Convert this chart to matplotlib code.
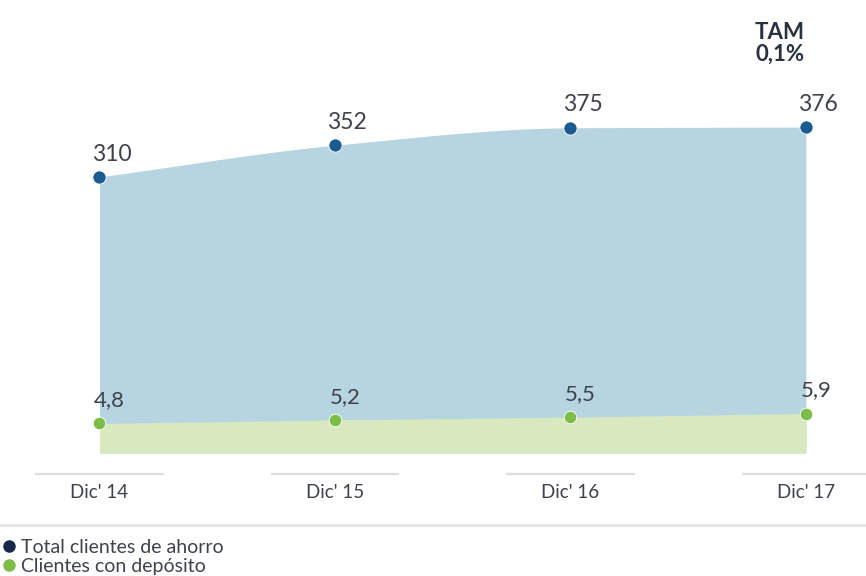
import numpy as np
import matplotlib
matplotlib.use("Agg")
import matplotlib.pyplot as plt
from matplotlib.lines import Line2D
from matplotlib import transforms as mtransforms

plt.rcParams["font.family"] = ["Lato", "DejaVu Sans"]

# Data (millones de clientes)
categories = ["Dic' 14", "Dic' 15", "Dic' 16", "Dic' 17"]
total_ahorro = [310, 352, 375, 376]
clientes_deposito = [4.8, 5.2, 5.5, 5.9]
total_labels = ["310", "352", "375", "376"]
deposito_labels = ["4,8", "5,2", "5,5", "5,9"]
legend_labels = ["Total clientes de ahorro", "Clientes con depósito"]
tam_text = "TAM\n0,1%"

BLUE_FILL = "#b7d4e1"
BLUE_DOT = "#1c5b90"
NAVY = "#16284a"
GREEN_FILL = "#d9e9bf"
GREEN_DOT = "#7dbd46"
TEXT = "#3d424b"
RULE = "#dedede"


def pchip(xk, yk, xs):
    """Monotone cubic interpolation used for the smooth area edge."""
    xk = np.asarray(xk, float)
    yk = np.asarray(yk, float)
    h = np.diff(xk)
    d = np.diff(yk) / h
    m = np.zeros_like(yk)
    for i in range(1, len(yk) - 1):
        if d[i - 1] * d[i] > 0:
            w1 = 2 * h[i] + h[i - 1]
            w2 = h[i] + 2 * h[i - 1]
            m[i] = (w1 + w2) / (w1 / d[i - 1] + w2 / d[i])
    m[0] = d[0]
    m[-1] = d[-1]
    out = np.empty_like(xs)
    for j, x in enumerate(xs):
        i = min(np.searchsorted(xk, x, side="right") - 1, len(h) - 1)
        i = max(i, 0)
        t = (x - xk[i]) / h[i]
        h00 = 2 * t**3 - 3 * t**2 + 1
        h10 = t**3 - 2 * t**2 + t
        h01 = -2 * t**3 + 3 * t**2
        h11 = t**3 - t**2
        out[j] = h00 * yk[i] + h10 * h[i] * m[i] + h01 * yk[i + 1] + h11 * h[i] * m[i + 1]
    return out


W, H = 866, 576
fig = plt.figure(figsize=(W / 100, H / 100), dpi=100)
fig.patch.set_facecolor("white")

ax_bottom_px = 453
ax = fig.add_axes([0, (H - ax_bottom_px) / H, 1, ax_bottom_px / H])
ax.set_facecolor("none")
x = np.arange(len(categories))
ax.set_xlim(-0.4225, 3.255)
ax.set_ylim(-55.2, 544.1)

# Total clientes de ahorro: smooth blue area
xs = np.linspace(x[0], x[-1], 300)
ys = pchip(x, total_ahorro, xs)
ax.fill_between(xs, ys, ax.get_ylim()[0], color=BLUE_FILL, lw=0, zorder=1)

# Clientes con depósito on its own scale
ax2 = ax.twinx()
ax2.set_ylim(1.55, 51.44)
ax2.fill_between(x, clientes_deposito, ax2.get_ylim()[0], color=GREEN_FILL, lw=0, zorder=1)

ax.plot(x, total_ahorro, "o", ms=9.5, color=BLUE_DOT, mec="white", mew=0.6, zorder=4)
ax2.plot(x, clientes_deposito, "o", ms=9, color=GREEN_DOT, mec="white", mew=0.6, zorder=4)

for xi, v, t in zip(x, total_ahorro, total_labels):
    ax.annotate(t, (xi, v), xytext=(8.6, 16.5), textcoords="offset points",
                ha="center", va="center", fontsize=16.5, color=TEXT, zorder=5)
for xi, v, t in zip(x, clientes_deposito, deposito_labels):
    ax2.annotate(t, (xi, v), xytext=(7.2, 16.6), textcoords="offset points",
                 ha="center", va="center", fontsize=16, color=TEXT, zorder=5)

# TAM note above the last point
ax.text(x[-1] - 0.11, 0.905, tam_text, transform=ax.get_xaxis_transform(),
        ha="center", va="center", fontsize=16, fontweight="bold", color="#2a3240",
        linespacing=1.05)

# Category rules and labels under the areas
seg_tr = mtransforms.offset_copy(ax.get_xaxis_transform(), fig=fig, x=0, y=-21, units="dots")
ax.hlines([0] * len(x), x - 0.272, x + 0.272, transform=seg_tr, color=RULE, lw=1.6, clip_on=False)
lab_tr = mtransforms.offset_copy(ax.get_xaxis_transform(), fig=fig, x=0, y=-40, units="dots")
for xi, c in zip(x, categories):
    ax.text(xi, 0, c, transform=lab_tr, ha="center", va="center", fontsize=13.5,
            color=TEXT)

for a in (ax, ax2):
    a.set_xticks([])
    a.set_yticks([])
    for s in a.spines.values():
        s.set_visible(False)

# Separator above the legend
fig.add_artist(Line2D([0, 1], [(H - 525) / H] * 2, color="#e4e4e4", lw=2))

handles = [Line2D([], [], ls="none", marker="o", ms=8, color=NAVY),
           Line2D([], [], ls="none", marker="o", ms=8, color=GREEN_DOT)]
fig.legend(handles, legend_labels, loc="upper left", bbox_to_anchor=(0.004, (H - 539) / H),
           frameon=False, prop={"size": 14}, handlelength=0.6,
           handletextpad=0.3, labelspacing=0.08, borderpad=0, borderaxespad=0,
           labelcolor=TEXT)

fig.savefig("out.png", dpi=100, facecolor="white")
